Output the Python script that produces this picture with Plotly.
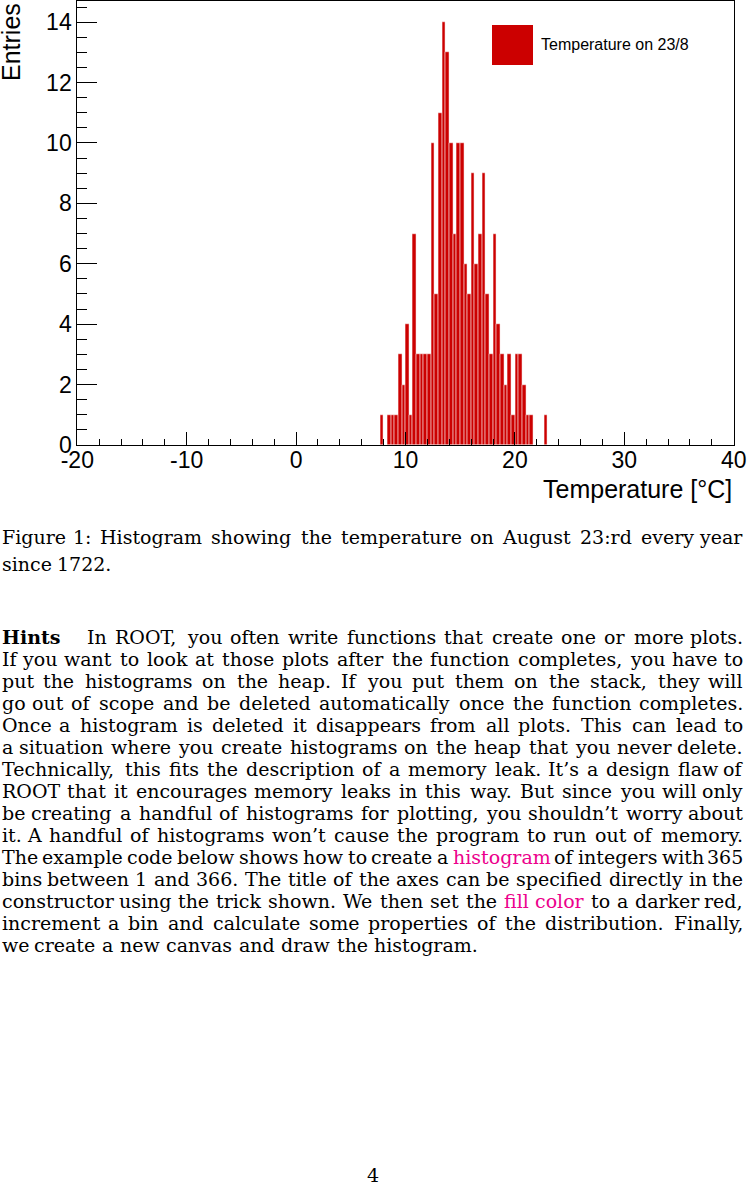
import plotly.graph_objects as go

W, H = 748, 1185

# ---------------- data ----------------
N_BINS = 180
X_LO, X_HI = -20.0, 40.0
FIRST_BIN = 83
COUNTS = [1, 0, 1, 1, 1, 3, 2, 4, 1, 7,
          3, 3, 3, 3, 10, 5, 11, 14, 13, 10,
          7, 10, 10, 6, 5, 9, 6, 7, 9, 5,
          3, 7, 4, 3, 2, 3, 1, 3, 3, 2,
          1, 1, 0, 0, 0, 1]
X_TICKS = [-20, -10, 0, 10, 20, 30, 40]
X_TICKTEXT = ["-20", "-10", "0", "10", "20", "30", "40"]
Y_TICKS = [0, 2, 4, 6, 8, 10, 12, 14]
SERIES_NAME = "Temperature on 23/8"
X_TITLE = "Temperature [°C]"
Y_TITLE = "Entries"

CAPTION = ["Figure 1: Histogram showing the temperature on August 23:rd every year",
           "since 1722."]
HINT_LEAD = "Hints"
PARA = [
    "In ROOT, you often write functions that create one or more plots.",
    "If you want to look at those plots after the function completes, you have to",
    "put the histograms on the heap. If you put them on the stack, they will",
    "go out of scope and be deleted automatically once the function completes.",
    "Once a histogram is deleted it disappears from all plots. This can lead to",
    "a situation where you create histograms on the heap that you never delete.",
    "Technically, this fits the description of a memory leak. It’s a design flaw of",
    "ROOT that it encourages memory leaks in this way. But since you will only",
    "be creating a handful of histograms for plotting, you shouldn’t worry about",
    "it. A handful of histograms won’t cause the program to run out of memory.",
    "The example code below shows how to create a histogram of integers with 365",
    "bins between 1 and 366. The title of the axes can be specified directly in the",
    "constructor using the trick shown. We then set the fill color to a darker red,",
    "increment a bin and calculate some properties of the distribution. Finally,",
    "we create a new canvas and draw the histogram.",
]
LINKS = {(10, "histogram"), (12, "fill"), (12, "color")}
PAGE_NO = "4"

# ---------------- helpers ----------------
def px(x):
    return x / W


def py(y):
    return 1 - y / H


RED = "#cc0000"
PINK = "rgb(236,0,140)"
SANS = "Liberation Sans, Arial, sans-serif"
SERIF = "DejaVu Serif, serif"
TXT = 19

CW = {' ': .318, '.': .318, ',': .318, ':': .337, '’': .318, "'": .318,
      'a': .596, 'b': .640, 'c': .560, 'd': .640, 'e': .592, 'f': .370, 'g': .640,
      'h': .644, 'i': .320, 'j': .310, 'k': .606, 'l': .320, 'm': .948, 'n': .644,
      'o': .602, 'p': .640, 'q': .640, 'r': .478, 's': .513, 't': .402, 'u': .644,
      'v': .565, 'w': .856, 'x': .564, 'y': .565, 'z': .527,
      'A': .722, 'B': .735, 'C': .765, 'D': .802, 'E': .730, 'F': .694, 'G': .799,
      'H': .872, 'I': .395, 'J': .401, 'K': .747, 'L': .664, 'M': 1.024, 'N': .875,
      'O': .820, 'P': .673, 'Q': .820, 'R': .753, 'S': .685, 'T': .735, 'U': .843,
      'V': .722, 'W': 1.028, 'X': .712, 'Y': .660, 'Z': .695}


def word_w(w):
    return sum(CW.get(c, .636) for c in w) * TXT


annotations = []


def add_text(txt, x, y, anchor="left", color="black", bold=False, size=TXT, family=SERIF):
    if bold:
        txt = "<b>" + txt + "</b>"
    annotations.append(dict(text=txt, x=px(x), y=py(y), xref="paper", yref="paper",
                            xanchor=anchor, yanchor="middle", showarrow=False,
                            font=dict(family=family, size=size, color=color)))


def set_line(line, y, x0, x1, justify, line_idx=None):
    words = line.split(" ")
    widths = [word_w(w) for w in words]
    if justify and len(words) > 1:
        gap = (x1 - x0 - sum(widths)) / (len(words) - 1)
    else:
        gap = CW[' '] * TXT * 1.1
    x = x0
    for i, (w, wd) in enumerate(zip(words, widths)):
        color = PINK if (line_idx, w) in LINKS else "black"
        if i == 0:
            add_text(w, x, y, "left", color)
        elif justify and i == len(words) - 1:
            add_text(w, x1, y, "right", color)
        else:
            add_text(w, x + wd / 2, y, "center", color)
        x += wd + gap


# ---------------- histogram ----------------
bin_w = (X_HI - X_LO) / N_BINS
centers = [X_LO + (FIRST_BIN + i + 0.5) * bin_w for i in range(len(COUNTS))]

fig = go.Figure(go.Bar(x=centers, y=COUNTS, width=bin_w, name=SERIES_NAME,
                       marker=dict(color=RED, line=dict(color="white", width=0.5)),
                       showlegend=False))

PX_L, PX_R, PY_T, PY_B = 77.3, 733.7, 1, 445

fig.update_layout(
    width=W, height=H, margin=dict(l=0, r=0, t=0, b=0, autoexpand=False),
    paper_bgcolor="white", plot_bgcolor="white", bargap=0, showlegend=False,
    xaxis=dict(domain=[px(PX_L), px(PX_R)], range=[X_LO, X_HI], automargin=False,
               tickvals=X_TICKS, ticktext=X_TICKTEXT,
               ticks="inside", ticklen=13, tickwidth=1, tickcolor="black",
               minor=dict(dtick=2, ticks="inside", ticklen=6, tickcolor="black", tickwidth=1),
               showline=True, linecolor="black", linewidth=1, mirror=True,
               showgrid=False, zeroline=False,
               tickfont=dict(family=SANS, size=23, color="black")),
    yaxis=dict(domain=[py(PY_B), py(PY_T)], range=[0, 14.7], automargin=False,
               tickvals=Y_TICKS,
               ticks="inside", ticklen=20, tickwidth=1, tickcolor="black",
               minor=dict(dtick=0.5, ticks="inside", ticklen=10, tickcolor="black", tickwidth=1),
               showline=True, linecolor="black", linewidth=1, mirror=True,
               showgrid=False, zeroline=False,
               tickfont=dict(family=SANS, size=23, color="black")),
)
try:
    fig.update_xaxes(ticklabelstandoff=-6)
except Exception:
    pass

# legend (ROOT style large box)
fig.add_shape(type="rect", xref="paper", yref="paper",
              x0=px(492), x1=px(533), y0=py(65), y1=py(25),
              fillcolor=RED, line=dict(width=0))
add_text(SERIES_NAME, 539, 45, "left", family=SANS, size=16)

# axis titles
annotations.append(dict(text=Y_TITLE, textangle=-90, x=px(11), y=py(1),
                        xref="paper", yref="paper", xanchor="center", yanchor="top",
                        showarrow=False, font=dict(family=SANS, size=25, color="black")))
add_text(X_TITLE, 734, 489, "right", family=SANS, size=25)

# ---------------- page text ----------------
LEFT, RIGHT = 0, 745
set_line(CAPTION[0], 537, LEFT, RIGHT, True)
set_line(CAPTION[1], 564, LEFT, RIGHT, False)

y0 = 637
add_text(HINT_LEAD, LEFT, y0, "left", bold=True)
for i, line in enumerate(PARA):
    start = 85 if i == 0 else LEFT
    set_line(line, y0 + 22 * i, start, RIGHT, i < len(PARA) - 1, line_idx=i)

add_text(PAGE_NO, 373, 1175, "center")

fig.update_layout(annotations=annotations)
fig.write_html("out.html", config={"displayModeBar": False})
